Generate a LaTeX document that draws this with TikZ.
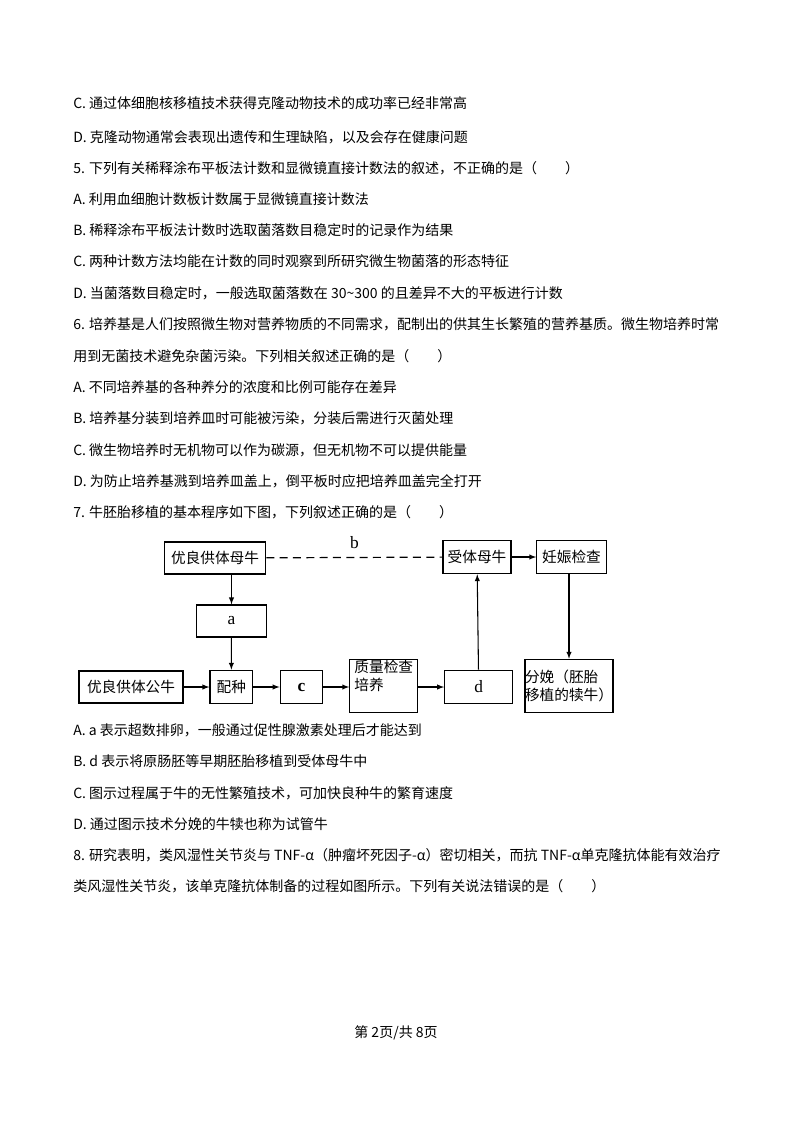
\documentclass[tikz,border=0pt]{standalone}
\usepackage{fontspec}
\setmainfont{Liberation Serif}
\newfontfamily\cjk{Noto Sans CJK SC}
\begin{document}
\begin{tikzpicture}[x=0.75pt,y=-0.75pt,
  tl/.style={anchor=west,inner sep=0,font=\cjk\fontsize{10.5}{12}\selectfont},
  bx/.style={draw,line width=0.9pt,inner sep=0,font=\cjk\fontsize{11}{14}\selectfont,align=center},
  ar/.style={-latex,line width=0.8pt}]
\useasboundingbox (0,0) rectangle (793,1123);
\node[tl] (l1) at (73,103) {C. 通过体细胞核移植技术获得克隆动物技术的成功率已经非常高};
\node[tl] (l2) at (73,137) {D. 克隆动物通常会表现出遗传和生理缺陷，以及会存在健康问题};
\node[tl] (l3) at (73,168) {5. 下列有关稀释涂布平板法计数和显微镜直接计数法的叙述，不正确的是（\hspace{2em}）};
\node[tl] (l4) at (73,199) {A. 利用血细胞计数板计数属于显微镜直接计数法};
\node[tl] (l5) at (73,230) {B. 稀释涂布平板法计数时选取菌落数目稳定时的记录作为结果};
\node[tl] (l6) at (73,261) {C. 两种计数方法均能在计数的同时观察到所研究微生物菌落的形态特征};
\node[tl] (l7) at (73,293) {D. 当菌落数目稳定时，一般选取菌落数在 30\textasciitilde300 的且差异不大的平板进行计数};
\node[tl] (l8) at (73,324) {6. 培养基是人们按照微生物对营养物质的不同需求，配制出的供其生长繁殖的营养基质。微生物培养时常};
\node[tl] (l9) at (73,356) {用到无菌技术避免杂菌污染。下列相关叙述正确的是（\hspace{2em}）};
\node[tl] (l10) at (73,387) {A. 不同培养基的各种养分的浓度和比例可能存在差异};
\node[tl] (l11) at (73,418) {B. 培养基分装到培养皿时可能被污染，分装后需进行灭菌处理};
\node[tl] (l12) at (73,450) {C. 微生物培养时无机物可以作为碳源，但无机物不可以提供能量};
\node[tl] (l13) at (73,481) {D. 为防止培养基溅到培养皿盖上，倒平板时应把培养皿盖完全打开};
\node[tl] (l14) at (73,512) {7. 牛胚胎移植的基本程序如下图，下列叙述正确的是（\hspace{2em}）};
\node[tl] (l15) at (73,730) {A. a 表示超数排卵，一般通过促性腺激素处理后才能达到};
\node[tl] (l16) at (73,761) {B. d 表示将原肠胚等早期胚胎移植到受体母牛中};
\node[tl] (l17) at (73,793) {C. 图示过程属于牛的无性繁殖技术，可加快良种牛的繁育速度};
\node[tl] (l18) at (73,824) {D. 通过图示技术分娩的牛犊也称为试管牛};
\node[tl] (l19) at (73,855) {8. 研究表明，类风湿性关节炎与 TNF-α（肿瘤坏死因子-α）密切相关，而抗 TNF-α单克隆抗体能有效治疗};
\node[tl] (l20) at (73,886) {类风湿性关节炎，该单克隆抗体制备的过程如图所示。下列有关说法错误的是（\hspace{2em}）};
\node[tl,anchor=center] (ft) at (396,1033) {第 2页/共 8页};
% diagram
\node[bx,minimum width=76pt,minimum height=24pt] (mu) at (215,558) {优良供体母牛};
\node[bx,minimum width=51pt,minimum height=25pt] (sh) at (477,557) {受体母牛};
\node[bx,minimum width=52pt,minimum height=25pt] (rs) at (571.5,557) {妊娠检查};
\node[bx,minimum width=52pt,minimum height=24pt,font=\fontsize{13}{14}\selectfont] (a) at (231.5,621) {a};
\node[bx,minimum width=78pt,minimum height=24pt] (gn) at (131,687) {优良供体公牛};
\node[bx,minimum width=32pt,minimum height=25pt] (pz) at (231.3,687) {配种};
\node[bx,minimum width=32pt,minimum height=25pt,font=\fontsize{13}{14}\selectfont\bfseries] (c) at (301.5,687) {c};
\node[bx,minimum width=51pt,minimum height=40pt,align=left] (zl) at (383.8,686) {质量检查\\培养\\[-2pt]\strut};
\node[bx,minimum width=51pt,minimum height=25pt,font=\fontsize{13}{14}\selectfont] (d) at (478.7,687) {d};
\node[bx,minimum width=66pt,minimum height=40pt,align=left] (fm) at (569,686) {分娩（胚胎\\移植的犊牛）};
\draw[line width=0.9pt,dash pattern=on 6pt off 4pt] (mu) -- node[above=3pt,font=\fontsize{13}{14}\selectfont] (b) {b} (sh);
\draw[ar] (sh) -- (rs);
\draw[ar] (mu.south-|a) -- (a);
\draw[ar] (a) -- (pz);
\draw[ar] (gn) -- (pz);
\draw[ar] (pz) -- (c);
\draw[ar] (c) -- (c-|zl.west);
\draw[ar] (zl.east|-d) -- (d);
\draw[ar] (d) -- (sh);
\draw[ar] (rs.south-|fm) -- (fm);
\end{tikzpicture}
\end{document}
